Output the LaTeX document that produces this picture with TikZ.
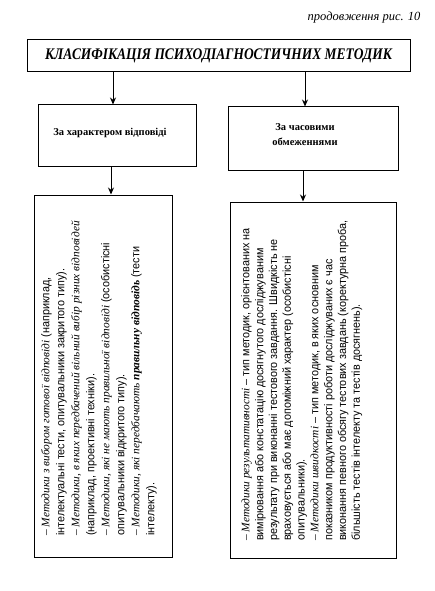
\documentclass[tikz,border=0pt]{standalone}
\usepackage{fontspec}
\setmainfont{Liberation Serif}
\newfontfamily\narrowsans{Liberation Sans}[FakeStretch=0.95]
\newfontfamily\titlefont{Liberation Serif}[FakeStretch=0.83]
\usetikzlibrary{arrows.meta}
\newcommand\mi[1]{{\rmfamily\itshape #1}}
\begin{document}
\begin{tikzpicture}[x=1pt,y=1pt,
  box/.style={draw, line width=1pt, inner sep=0pt},
  arr/.style={line width=1pt, -{Stealth[length=7pt,width=6pt]}},
  subtext/.style={align=center, inner sep=0pt, font=\bfseries\fontsize{10.5}{14.5}\selectfont},
  body/.style={rotate=90, anchor=north west, inner sep=0pt, align=left,
    font=\narrowsans\fontsize{11.4}{15}\selectfont}]
\useasboundingbox (0,0) rectangle (435,-591);
\node[anchor=base east, font=\itshape\fontsize{12.5}{14}\selectfont] (cap) at (424,-21) {продовження рис. 10};
\node[box, minimum width=383pt, minimum height=32pt, font=\titlefont\bfseries\itshape\fontsize{16.2}{18}\selectfont] (title) at (218.5,-56) {КЛАСИФІКАЦІЯ ПСИХОДІАГНОСТИЧНИХ МЕТОДИК};
\node[box, minimum width=158pt, minimum height=61pt] (subL) at (117,-135.5) {};
\node[subtext] (subLt) at (110,-133) {За характером відповіді};
\node[box, minimum width=170pt, minimum height=63pt] (subR) at (313,-138.5) {};
\node[subtext] (subRt) at (305,-134.5) {За часовими\\обмеженнями};
\node[box, minimum width=138pt, minimum height=362pt] (boxL) at (103,-376) {};
\node[box, minimum width=166pt, minimum height=356pt] (boxR) at (313,-380) {};
\node[body] (tL) at (41,-536) {{\rmfamily –} \mi{Методики з вибором готової відповіді} (наприклад,\\
інтелектуальні тести, опитувальники закритого типу).\\
{\rmfamily –} \mi{Методики, в яких передбачений вільний вибір різних відповідей}\\
(наприклад, проективні техніки).\\
{\rmfamily –} \mi{Методики, які не мають правильної відповіді} (особистісні\\
опитувальники відкритого типу).\\
{\rmfamily –} \mi{Методики, які передбачають} \textbf{\mi{правильну відповідь}} (тести\\
інтелекту).};
\node[body, font=\narrowsans\fontsize{11.4}{13.8}\selectfont] (tR) at (241,-541) {{\rmfamily –} \mi{Методики результативності} – тип методик, орієнтованих на\\
вимірювання або констатацію досягнутого досліджуваним\\
результату при виконанні тестового завдання. Швидкість не\\
враховується або має допоміжний характер (особистісні\\
опитувальники).\\
{\rmfamily –} \mi{Методики швидкості} – тип методик, в яких основним\\
показником продуктивності роботи досліджуваних є час\\
виконання певного обсягу тестових завдань (коректурна проба,\\
більшість тестів інтелекту та тестів досягнень).};
\coordinate (a1) at (113,0);
\coordinate (a2) at (305,0);
\coordinate (a3) at (111,0);
\coordinate (a4) at (303,0);
\draw[arr] (title.south -| a1) -- (subL.north -| a1);
\draw[arr] (title.south -| a2) -- (subR.north -| a2);
\draw[arr] (subL.south -| a3) -- (boxL.north -| a3);
\draw[arr] (subR.south -| a4) -- (boxR.north -| a4);
\end{tikzpicture}
\end{document}
